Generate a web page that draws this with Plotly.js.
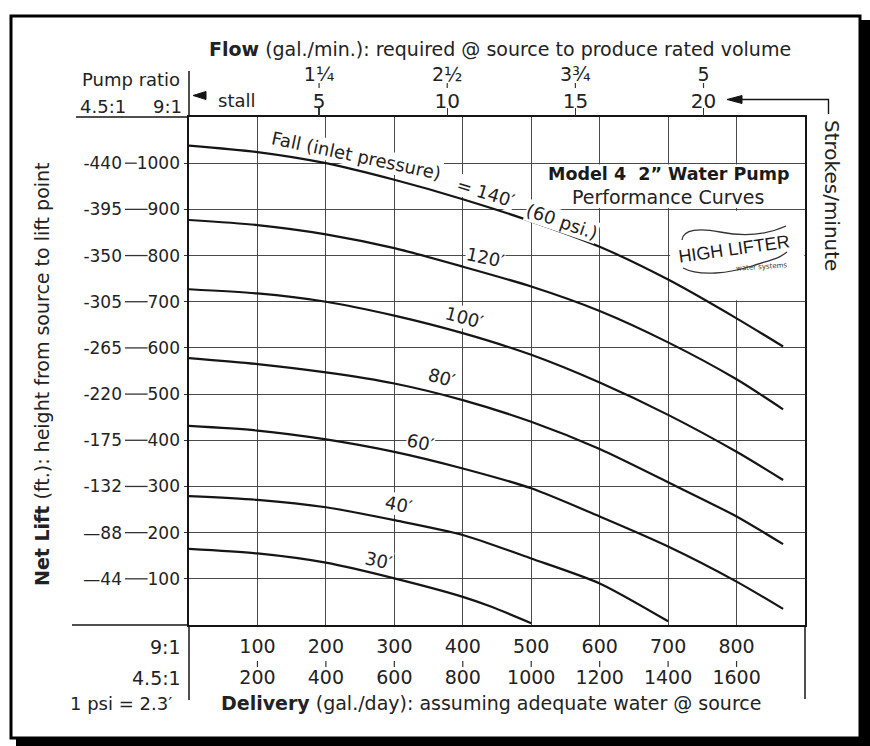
<!DOCTYPE html>
<html><head><meta charset="utf-8">
<script src="https://cdn.plot.ly/plotly-3.0.1.min.js"></script>
<style>html,body{margin:0;padding:0;background:#fff}</style>
</head><body><div id="chart" style="width:870px;height:746px"></div>
<script>
// ---------- data ----------
const deliveryFull = [0, 100, 200, 300, 400, 500, 600, 700, 800, 868];
const lift140 = [1038, 1024, 1000, 964, 922, 874, 819, 748, 664, 603];
const lift120 = [877, 866, 846, 816, 776, 733, 680, 612, 532, 467];
const lift100 = [727, 718, 700, 670, 632, 585, 525, 455, 375, 314];
const lift80  = [578, 565, 547, 523, 487, 440, 381, 309, 235, 175];
const lift60  = [431, 421, 402, 375, 339, 296, 235, 170, 94, 35];
const delivery40 = [0, 100, 200, 300, 400, 500, 600, 700];
const lift40  = [279, 271, 255, 227, 195, 144, 90, 8];
const delivery30 = [0, 100, 200, 300, 400, 441, 500];
const lift30  = [165, 155, 135, 101, 61, 40, 4];

const delivery9  = [100, 200, 300, 400, 500, 600, 700, 800];
const delivery45 = [200, 400, 600, 800, 1000, 1200, 1400, 1600];
const lift9  = [100, 200, 300, 400, 500, 600, 700, 800, 900, 1000];
const lift45 = ["—44", "—88", "-132", "-175", "-220", "-265", "-305", "-350", "-395", "-440"];
const strokes = [5, 10, 15, 20];
const flowGpm = ["1¼", "2½", "3¾", "5"];

// label anchor points (data units) for the curve names
const curveLabels = [
  {text: "Fall (inlet pressure)", x: 244, y: 1016, a: 12},
  {text: "= 140′", x: 433, y: 936, a: 17},
  {text: "(60 psi.)", x: 545, y: 874, a: 19},
  {text: "120′", x: 433, y: 795, a: 12},
  {text: "100′", x: 402, y: 665, a: 15},
  {text: "80′", x: 369, y: 535, a: 15},
  {text: "60′", x: 338, y: 396, a: 12},
  {text: "40′", x: 306, y: 260, a: 12},
  {text: "30′", x: 277, y: 139, a: 12}
];

// ---------- geometry helpers ----------
const L = 189, W = 616, T = 117, H = 508;
const px = x => (x - L) / W;
const py = y => (T + H - y) / H;
const F = "DejaVu Sans, Liberation Sans, sans-serif";
const C = "#222";
const GRID = "#4a4a4a";
const INK = "#151515";

function A(text, x, y, o) {
  o = o || {};
  const font = Object.assign({family: F, size: 18, color: C}, o.font || {});
  const base = {text: text, x: px(x), y: py(y), xref: 'paper', yref: 'paper',
    showarrow: false, xanchor: 'center', yanchor: 'middle'};
  return Object.assign(base, o, {font: font});
}
function pathPx(cmds) {
  return cmds.map(c => {
    const out = [c[0]];
    for (let i = 1; i < c.length; i += 2) out.push(px(c[i]).toFixed(5) + ',' + py(c[i + 1]).toFixed(5));
    return out[0] + out.slice(1).join(' ');
  }).join(' ');
}
function lineP(x0, y0, x1, y1, w, col) {
  return {type: 'line', xref: 'paper', yref: 'paper', x0: px(x0), y0: py(y0), x1: px(x1), y1: py(y1),
    line: {color: col || INK, width: w || 1.5}, layer: 'above'};
}

// ---------- traces ----------
const lineStyle = {color: INK, width: 2.2, shape: 'spline', smoothing: 0.7};
const mk = (x, y, name) => ({x: x, y: y, name: name, type: 'scatter', mode: 'lines',
  line: lineStyle, hoverinfo: 'skip', showlegend: false, xaxis: 'x', yaxis: 'y'});
const traces = [
  mk(deliveryFull, lift140, "140'"),
  mk(deliveryFull, lift120, "120'"),
  mk(deliveryFull, lift100, "100'"),
  mk(deliveryFull, lift80, "80'"),
  mk(deliveryFull, lift60, "60'"),
  mk(delivery40, lift40, "40'"),
  mk(delivery30, lift30, "30'"),
  {x: [], y: [], type: 'scatter', xaxis: 'x2', yaxis: 'y', showlegend: false},
  {x: [], y: [], type: 'scatter', xaxis: 'x3', yaxis: 'y', showlegend: false},
  {x: [], y: [], type: 'scatter', xaxis: 'x4', yaxis: 'y', showlegend: false},
  {x: [], y: [], type: 'scatter', xaxis: 'x', yaxis: 'y2', showlegend: false}
];

// ---------- shapes ----------
const shapes = [];
// white panels (cover grid, under curves)
shapes.push({type: 'rect', xref: 'x', yref: 'y', x0: 503, x1: 899, y0: 903, y1: 997,
  fillcolor: 'white', line: {width: 0}, layer: 'between'});
shapes.push({type: 'rect', xref: 'x', yref: 'y', x0: 703, x1: 899, y0: 703, y1: 897,
  fillcolor: 'white', line: {width: 0}, layer: 'between'});
// axis line extensions
shapes.push(lineP(76, 117, 189, 117));
shapes.push(lineP(72, 625, 189, 625));
shapes.push(lineP(189, 71, 189, 117));
shapes.push(lineP(189, 625, 189, 700));
shapes.push(lineP(805, 625, 805, 699));
// small ticks between the two rows of top labels
strokes.forEach(s => shapes.push({type: 'line', xref: 'x2', yref: 'paper', x0: s, x1: s,
  y0: py(88), y1: py(83), line: {color: '#333', width: 1.2}}));
// small ticks between the two rows of bottom labels
delivery9.forEach(d => shapes.push({type: 'line', xref: 'x', yref: 'paper', x0: d, x1: d,
  y0: py(661), y1: py(667), line: {color: '#333', width: 1.2}}));
// dashes joining the two columns of left labels
lift9.forEach(v => {
  const digits = String(v).length;
  const leftEdge = 183 - digits * 0.636 * 17;
  shapes.push({type: 'line', xref: 'paper', yref: 'y', x0: px(125), x1: px(leftEdge - 3), y0: v, y1: v,
    line: {color: '#333', width: 1.3}});
});
// stall arrowhead
shapes.push({type: 'path', xref: 'paper', yref: 'paper', path: pathPx([['M', 193, 95.5], ['L', 206, 91.5], ['L', 206, 99.5], ['Z']]),
  fillcolor: INK, line: {color: INK, width: 1}});
// strokes/minute arrow
shapes.push({type: 'path', xref: 'paper', yref: 'paper', path: pathPx([['M', 828.5, 114], ['L', 828.5, 99.5], ['L', 738, 99.5]]),
  line: {color: INK, width: 1.4}});
shapes.push({type: 'path', xref: 'paper', yref: 'paper', path: pathPx([['M', 727, 99.5], ['L', 742, 95.5], ['L', 742, 103.5], ['Z']]),
  fillcolor: INK, line: {color: INK, width: 1}});
// logo swooshes
shapes.push({type: 'path', xref: 'paper', yref: 'paper',
  path: pathPx([['M', 682, 240], ['C', 683, 229, 700, 228, 720, 232], ['S', 762, 237, 786, 226]]),
  line: {color: '#333', width: 1.3}});
shapes.push({type: 'path', xref: 'paper', yref: 'paper',
  path: pathPx([['M', 683, 268], ['C', 700, 277, 730, 273, 752, 266], ['S', 778, 259, 787, 252]]),
  line: {color: '#333', width: 1.3}});
// outer frame with shadow
shapes.push({type: 'rect', xref: 'paper', yref: 'paper', x0: px(11), x1: px(860), y0: py(16), y1: py(738),
  line: {color: '#000', width: 3}, fillcolor: 'rgba(0,0,0,0)'});
shapes.push({type: 'rect', xref: 'paper', yref: 'paper', x0: px(860), x1: px(870), y0: py(20), y1: py(746),
  line: {width: 0}, fillcolor: '#000'});
shapes.push({type: 'rect', xref: 'paper', yref: 'paper', x0: px(16), x1: px(870), y0: py(738), y1: py(746),
  line: {width: 0}, fillcolor: '#000'});

// ---------- annotations ----------
const ann = [];
ann.push(A("<b>Flow</b> (gal./min.): required @ source to produce rated volume", 500, 49, {font: {size: 19}}));
ann.push(A("Pump ratio", 131, 80));
ann.push(A("4.5:1", 103, 106));
ann.push(A("9:1", 167, 106));
ann.push(A("stall", 236, 100));
ann.push(A("<b>Net Lift</b> (ft.): height from source to lift point", 42, 374, {textangle: -90, font: {size: 19}}));
ann.push(A("Strokes/minute", 832, 195, {textangle: 90, font: {size: 20}}));
ann.push(A("9:1", 183, 647, {xanchor: 'right', font: {size: 19}}));
ann.push(A("4.5:1", 183, 678, {xanchor: 'right', font: {size: 19}}));
ann.push(A("1 psi = 2.3′", 121, 703));
ann.push(A("<b>Delivery</b> (gal./day): assuming adequate water @ source", 491, 703, {font: {size: 19}}));
ann.push(A("<b>Model 4  2” Water Pump</b>", 669, 174, {font: {size: 17.5, color: '#1a1a1a'}}));
ann.push(A("Performance Curves", 668, 197, {font: {size: 19}}));
ann.push(A("HIGH LIFTER", 734, 249, {textangle: -8,
  font: {family: "Liberation Sans Narrow, Liberation Sans, sans-serif", size: 18, color: '#1a1a1a'}}));
ann.push(A("water systems", 761, 267, {textangle: -4, font: {size: 7, color: '#333'}}));
curveLabels.forEach(c => ann.push({text: c.text, x: c.x, y: c.y, xref: 'x', yref: 'y', showarrow: false,
  textangle: c.a, bgcolor: 'white', borderpad: 0, xanchor: 'center', yanchor: 'middle',
  font: {family: F, size: 18, color: C}}));

// ---------- layout ----------
const tickF = s => ({family: F, size: s, color: C});
const layout = {
  width: 870, height: 746,
  margin: {l: L, r: 870 - L - W, t: T, b: 746 - T - H, pad: 0},
  paper_bgcolor: '#fff', plot_bgcolor: '#fff',
  showlegend: false,
  xaxis: {range: [0, 900], tickvals: delivery9, ticktext: delivery9.map(String), ticks: '',
    showgrid: true, gridcolor: GRID, gridwidth: 1.1, showline: true, linecolor: INK, linewidth: 1.6, mirror: true,
    zeroline: false, tickfont: tickF(19), ticklabelstandoff: 4, fixedrange: true},
  xaxis3: {overlaying: 'x', side: 'bottom', anchor: 'y', range: [0, 1800], tickvals: delivery45,
    ticktext: delivery45.map(String), ticks: '', showgrid: false, showline: false, zeroline: false,
    tickfont: tickF(19), ticklabelstandoff: 39, fixedrange: true},
  xaxis2: {overlaying: 'x', side: 'top', anchor: 'y', range: [-0.076, 23.96], tickvals: strokes,
    ticktext: strokes.map(String), ticks: 'outside', ticklen: 8, tickwidth: 1.2, tickcolor: '#333',
    showgrid: false, showline: false, zeroline: false, tickfont: tickF(20), ticklabelstandoff: -8, fixedrange: true},
  xaxis4: {overlaying: 'x', side: 'top', anchor: 'y', range: [-0.076, 23.96], tickvals: strokes,
    ticktext: flowGpm, ticks: '', showgrid: false, showline: false, zeroline: false,
    tickfont: tickF(19), ticklabelstandoff: 31, fixedrange: true},
  yaxis: {range: [0, 1100], tickvals: lift9, ticktext: lift9.map(String), ticks: 'outside', ticklen: 3,
    tickcolor: '#333', showgrid: true, gridcolor: GRID, gridwidth: 1.1, showline: true, linecolor: INK,
    linewidth: 1.6, mirror: true, zeroline: false, tickfont: tickF(17), ticklabelstandoff: 1, fixedrange: true},
  yaxis2: {overlaying: 'y', side: 'left', anchor: 'x', range: [0, 1100], tickvals: lift9, ticktext: lift45,
    ticks: '', showgrid: false, showline: false, zeroline: false, tickfont: tickF(17),
    ticklabelstandoff: 66, fixedrange: true},
  shapes: shapes,
  annotations: ann
};

Plotly.newPlot('chart', traces, layout, {displayModeBar: false, staticPlot: true});
</script>
</body></html>
